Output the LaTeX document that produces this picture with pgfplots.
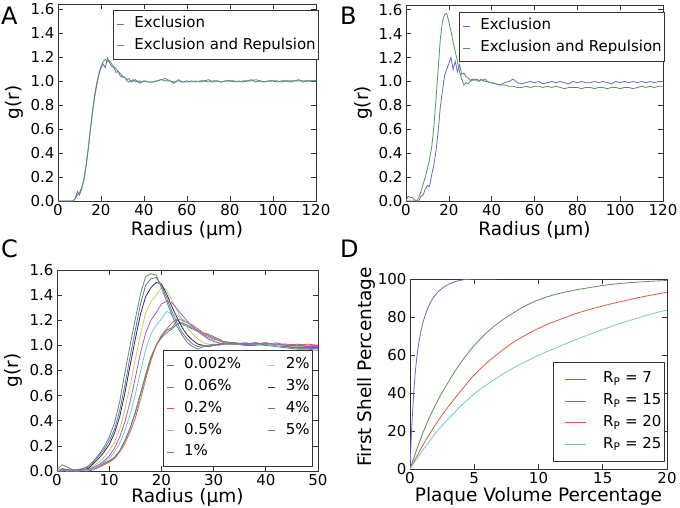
\documentclass[border=0pt]{standalone}
\usepackage{fontspec}
\setmainfont{DejaVu Sans}
\usepackage{pgfplots}
\usepackage{pgfplotstable}
\pgfplotsset{compat=1.18}

\definecolor{mblue}{RGB}{105,105,205}
\definecolor{mgreen}{RGB}{90,145,90}
\definecolor{mred}{RGB}{225,90,65}
\definecolor{mcyan}{RGB}{115,200,200}
\definecolor{mmag}{RGB}{175,85,200}
\definecolor{myel}{RGB}{205,205,95}
\definecolor{mblack}{RGB}{45,45,65}

\pgfplotstableread[row sep=\\]{
r c0002 c006 c02 c05 c1 c2 c3 c4 c5\\
0 0.00 0.00 0.00 0.00 0.00 0.00 0.00 0.00 0.01\\
1 0.00 0.00 0.00 0.01 0.00 0.01 0.01 0.02 0.05\\
2 0.01 0.01 0.00 0.00 0.01 0.00 0.01 0.01 0.03\\
3 0.00 0.00 0.00 0.01 0.00 0.00 0.00 0.01 0.01\\
4 0.00 0.00 0.00 0.00 0.00 0.01 0.01 0.01 0.01\\
5 0.00 0.01 0.01 0.01 0.01 0.01 0.01 0.02 0.02\\
6 0.00 0.01 0.01 0.01 0.01 0.02 0.02 0.03 0.04\\
7 0.01 0.02 0.02 0.02 0.03 0.04 0.06 0.07 0.08\\
8 0.03 0.04 0.03 0.04 0.05 0.07 0.10 0.12 0.13\\
9 0.06 0.06 0.05 0.07 0.08 0.11 0.15 0.17 0.19\\
10 0.08 0.08 0.07 0.10 0.12 0.16 0.21 0.24 0.27\\
11 0.11 0.10 0.10 0.15 0.18 0.23 0.30 0.33 0.38\\
12 0.16 0.16 0.15 0.22 0.27 0.33 0.43 0.48 0.55\\
13 0.24 0.24 0.22 0.32 0.39 0.49 0.62 0.68 0.78\\
14 0.34 0.34 0.31 0.45 0.55 0.68 0.84 0.91 1.00\\
15 0.46 0.47 0.42 0.61 0.74 0.89 1.05 1.12 1.21\\
16 0.61 0.62 0.57 0.79 0.94 1.09 1.25 1.33 1.41\\
17 0.76 0.77 0.73 0.97 1.10 1.26 1.39 1.48 1.55\\
18 0.90 0.91 0.88 1.09 1.20 1.35 1.46 1.53 1.57\\
19 1.00 1.00 1.00 1.16 1.26 1.40 1.50 1.54 1.56\\
20 1.07 1.06 1.08 1.21 1.33 1.46 1.49 1.48 1.46\\
21 1.12 1.10 1.13 1.27 1.35 1.44 1.41 1.38 1.35\\
22 1.14 1.13 1.18 1.25 1.34 1.36 1.31 1.27 1.24\\
23 1.20 1.17 1.21 1.24 1.29 1.28 1.22 1.18 1.15\\
24 1.17 1.18 1.20 1.21 1.24 1.20 1.14 1.10 1.08\\
25 1.15 1.16 1.18 1.18 1.19 1.14 1.08 1.05 1.02\\
26 1.13 1.14 1.16 1.14 1.15 1.09 1.04 1.01 0.99\\
27 1.11 1.12 1.13 1.11 1.11 1.05 1.01 0.99 0.97\\
28 1.09 1.10 1.10 1.08 1.08 1.02 1.00 1.00 0.99\\
29 1.07 1.09 1.08 1.06 1.05 1.01 0.99 0.99 1.00\\
30 1.05 1.07 1.06 1.04 1.03 1.00 1.00 1.00 1.01\\
31 1.04 1.05 1.04 1.02 1.02 1.01 1.01 1.01 1.00\\
32 1.02 1.03 1.03 1.01 1.01 1.02 1.01 1.01 1.02\\
34 1.01 1.02 1.02 1.01 1.02 1.01 1.01 1.02 1.01\\
36 1.00 1.01 1.01 1.02 1.01 1.01 1.02 1.01 1.01\\
38 1.00 1.01 1.02 1.01 1.02 1.02 1.01 1.01 1.02\\
40 1.01 1.00 1.01 1.01 1.01 1.01 1.02 1.02 1.00\\
42 1.00 1.01 1.01 1.00 1.02 1.00 1.00 1.00 0.99\\
44 1.00 1.00 1.01 1.00 1.00 1.00 0.99 0.99 0.98\\
46 1.01 1.00 1.00 0.99 1.00 0.99 0.98 0.98 0.97\\
48 1.00 1.00 1.01 1.00 0.99 0.99 0.98 0.98 0.97\\
50 1.00 0.99 1.00 0.99 0.99 0.98 0.98 0.97 0.96\\
}\tableC

\pgfplotsset{
  panel/.style={
    scale only axis,
    axis line style={black!80,line width=0.8pt},
    tick align=inside,
    major tick length=5pt,
    every tick/.style={black!80,line width=0.6pt},
    tick label style={font=\fontsize{15}{17}\selectfont},
    label style={font=\fontsize{18.5}{20}\selectfont},
    /pgf/number format/assume math mode=true,
    every axis plot/.append style={line width=0.8pt},
    legend style={font=\fontsize{15}{17}\selectfont, draw=black!80, line width=0.8pt,
      inner xsep=3pt, inner ysep=6.5pt, row sep=7.2pt, column sep=0pt,
      nodes={inner sep=0pt, text height=11pt, text depth=3.5pt}},
    legend cell align=left,
    legend image code/.code={\draw[#1,line width=0.8pt] (0pt,0pt) -- (7pt,0pt); \path (17pt,0pt);},
  },
  gr/.style={ymin=0, ymax=1.64,
    ytick={0,0.2,0.4,0.6,0.8,1.0,1.2,1.4,1.6},
    yticklabel style={/pgf/number format/.cd,fixed,fixed zerofill,precision=1},
    xlabel={Radius (µm)}, ylabel={g(r)}},
}

\begin{document}
\begin{tikzpicture}[x=1pt,y=1pt]
\path[use as bounding box] (0,0) rectangle (680,-508);

% Panel A
\begin{axis}[panel, gr, at={(58pt,-201pt)}, anchor=south west, width=258pt, height=197pt,
  xmin=0, xmax=120, xtick={0,20,40,60,80,100,120},
  xlabel style={at={([yshift=-34pt]axis description cs:0.5,0)},anchor=base},
  ylabel style={at={([xshift=-38pt]axis description cs:0,0.5)},anchor=base,rotate=0},
  legend style={at={(1.012,0.97)},anchor=north east}]
\addplot[mblue] table[row sep=\\]{x y\\ 0 0\\ 6 0\\ 7 0.0\\ 8 0.02\\ 9 0.08\\ 10 0.05\\ 11 0.10\\ 12 0.17\\ 13 0.28\\ 14 0.42\\ 15 0.58\\ 16 0.73\\ 17 0.86\\ 18 0.96\\ 19 1.05\\ 20 1.11\\ 21 1.14\\ 22 1.11\\ 23 1.19\\ 24 1.15\\ 25 1.12\\ 26 1.11\\ 27 1.07\\ 28 1.08\\ 29 1.04\\ 30 1.03\\ 31 1.03\\ 32 1.01\\ 33 1.02\\ 34 0.99\\ 35 1.00\\ 36 1.01\\ 37 0.99\\ 38 1.00\\ 39 0.99\\ 40 1.00\\ 42 0.99\\ 44 0.99\\ 46 1.00\\ 48 1.01\\ 50 1.02\\ 52 1.00\\ 54 0.98\\ 56 1.01\\ 58 0.99\\ 60 1.00\\ 62 0.99\\ 64 1.00\\ 66 0.99\\ 68 1.00\\ 70 1.01\\ 72 0.99\\ 74 1.00\\ 76 0.99\\ 78 1.00\\ 80 1.00\\ 82 0.99\\ 84 1.00\\ 86 0.99\\ 88 1.00\\ 90 1.01\\ 92 0.99\\ 94 1.00\\ 96 0.99\\ 98 1.00\\ 100 1.00\\ 102 0.99\\ 104 1.00\\ 106 1.00\\ 108 0.99\\ 110 1.00\\ 112 1.01\\ 114 0.99\\ 116 1.00\\ 118 1.00\\ 120 1.00\\};
\addlegendentry{Exclusion}
\addplot[mgreen] table[row sep=\\]{x y\\ 0 0\\ 7 0\\ 8 0.02\\ 9 0.05\\ 10 0.07\\ 11 0.11\\ 12 0.18\\ 13 0.29\\ 14 0.43\\ 15 0.59\\ 16 0.74\\ 17 0.88\\ 18 0.98\\ 19 1.06\\ 20 1.12\\ 21 1.16\\ 22 1.18\\ 23 1.16\\ 24 1.17\\ 25 1.14\\ 26 1.12\\ 27 1.10\\ 28 1.08\\ 29 1.06\\ 30 1.04\\ 31 1.03\\ 32 1.00\\ 33 0.99\\ 34 1.00\\ 35 1.01\\ 36 0.99\\ 37 1.00\\ 38 0.98\\ 39 0.99\\ 40 1.00\\ 42 0.99\\ 44 0.99\\ 46 1.00\\ 48 1.01\\ 50 1.00\\ 52 1.00\\ 54 0.99\\ 56 1.00\\ 58 0.99\\ 60 0.99\\ 62 1.00\\ 64 0.99\\ 66 1.00\\ 68 1.00\\ 70 0.99\\ 72 1.00\\ 74 1.00\\ 76 0.99\\ 78 1.00\\ 80 1.00\\ 82 1.00\\ 84 0.99\\ 86 1.00\\ 88 1.00\\ 90 1.00\\ 92 1.01\\ 94 1.00\\ 96 0.99\\ 98 1.00\\ 100 1.00\\ 102 1.00\\ 104 0.99\\ 106 1.00\\ 108 1.00\\ 110 1.00\\ 112 1.00\\ 114 1.00\\ 116 1.00\\ 118 1.00\\ 120 1.00\\};
\addlegendentry{Exclusion and Repulsion}
\end{axis}

% Panel B
\begin{axis}[panel, gr, at={(406pt,-201pt)}, anchor=south west, width=257pt, height=196pt,
  xmin=0, xmax=120, xtick={0,20,40,60,80,100,120},
  xlabel style={at={([yshift=-34pt]axis description cs:0.5,0)},anchor=base},
  ylabel style={at={([xshift=-38pt]axis description cs:0,0.5)},anchor=base,rotate=0},
  legend style={at={(1.008,0.964)},anchor=north east}]
\addplot[mblue] table[row sep=\\]{x y\\ 0 0\\ 6 0.0\\ 7 0.04\\ 8 0.05\\ 9 0.10\\ 10 0.13\\ 11 0.12\\ 12 0.22\\ 13 0.30\\ 14 0.42\\ 15 0.58\\ 16 0.78\\ 17 0.92\\ 18 1.05\\ 19 1.10\\ 20 1.15\\ 21 1.20\\ 22 1.10\\ 23 1.17\\ 24 1.08\\ 25 1.14\\ 26 1.06\\ 27 1.07\\ 28 1.04\\ 29 1.03\\ 30 1.01\\ 31 1.02\\ 32 1.01\\ 33 1.02\\ 34 1.01\\ 35 1.01\\ 36 1.01\\ 37 1.00\\ 38 1.00\\ 39 0.99\\ 40 0.99\\ 42 0.98\\ 44 0.97\\ 46 0.99\\ 48 1.00\\ 50 1.02\\ 52 0.99\\ 54 0.98\\ 56 0.99\\ 58 1.00\\ 60 0.99\\ 62 1.00\\ 64 0.98\\ 66 0.99\\ 68 1.00\\ 70 0.99\\ 72 1.00\\ 74 0.99\\ 76 0.98\\ 78 1.00\\ 80 0.99\\ 82 1.00\\ 84 0.99\\ 86 0.99\\ 88 1.00\\ 90 0.99\\ 92 1.00\\ 94 0.99\\ 96 0.98\\ 98 1.00\\ 100 0.99\\ 102 1.00\\ 104 0.99\\ 106 1.00\\ 108 0.99\\ 110 1.00\\ 112 0.99\\ 114 1.00\\ 116 0.99\\ 118 1.00\\ 120 1.00\\};
\addlegendentry{Exclusion}
\addplot[mgreen] table[row sep=\\]{x y\\ 0 0.0\\ 1 0.04\\ 2 0.03\\ 3 0.03\\ 4 0.01\\ 5 0.0\\ 6 0.03\\ 7 0.08\\ 8 0.14\\ 9 0.20\\ 10 0.27\\ 11 0.35\\ 12 0.45\\ 13 0.62\\ 14 0.85\\ 15 1.10\\ 16 1.35\\ 17 1.50\\ 18 1.56\\ 19 1.57\\ 20 1.50\\ 21 1.42\\ 22 1.33\\ 23 1.25\\ 24 1.17\\ 25 1.08\\ 26 1.02\\ 27 0.97\\ 28 0.99\\ 29 0.98\\ 30 1.00\\ 31 1.01\\ 32 1.02\\ 33 1.01\\ 34 1.00\\ 35 1.02\\ 36 1.01\\ 37 1.02\\ 38 1.00\\ 39 0.99\\ 40 0.99\\ 42 0.98\\ 44 0.97\\ 46 0.97\\ 48 0.96\\ 50 0.96\\ 52 0.95\\ 54 0.95\\ 56 0.96\\ 58 0.95\\ 60 0.96\\ 62 0.96\\ 64 0.95\\ 66 0.96\\ 68 0.95\\ 70 0.96\\ 72 0.95\\ 74 0.94\\ 76 0.95\\ 78 0.95\\ 80 0.95\\ 82 0.94\\ 84 0.95\\ 86 0.95\\ 88 0.94\\ 90 0.95\\ 92 0.95\\ 94 0.94\\ 96 0.95\\ 98 0.95\\ 100 0.94\\ 102 0.95\\ 104 0.95\\ 106 0.94\\ 108 0.95\\ 110 0.96\\ 112 0.95\\ 114 0.96\\ 116 0.95\\ 118 0.96\\ 120 0.96\\};
\addlegendentry{Exclusion and Repulsion}
\end{axis}

% Panel C
\begin{axis}[panel, gr, ymax=1.6, at={(57pt,-471pt)}, anchor=south west, width=261pt, height=201pt,
  xmin=0, xmax=50, xtick={0,10,20,30,40,50},
  xlabel style={at={([yshift=-31pt]axis description cs:0.5,0)},anchor=base},
  ylabel style={at={([xshift=-38pt]axis description cs:0,0.5)},anchor=base,rotate=0},
  legend columns=2,
  legend style={at={(0.981,0.02)},anchor=south east, inner ysep=7.3pt}]
\addplot[mblue] table[x=r,y=c0002]{\tableC}; \addlegendentry{\makebox[84pt][l]{0.002\%}}
\addplot[myel] table[x=r,y=c2]{\tableC}; \addlegendentry{2\%}
\addplot[mgreen] table[x=r,y=c006]{\tableC}; \addlegendentry{0.06\%}
\addplot[mblack] table[x=r,y=c3]{\tableC}; \addlegendentry{3\%}
\addplot[mred] table[x=r,y=c02]{\tableC}; \addlegendentry{0.2\%}
\addplot[mblue] table[x=r,y=c4]{\tableC}; \addlegendentry{4\%}
\addplot[mcyan] table[x=r,y=c05]{\tableC}; \addlegendentry{0.5\%}
\addplot[mgreen] table[x=r,y=c5]{\tableC}; \addlegendentry{5\%}
\addplot[mmag] table[x=r,y=c1]{\tableC}; \addlegendentry{1\%}
\end{axis}

% Panel D
\begin{axis}[panel, at={(410pt,-469pt)}, anchor=south west, width=257pt, height=190pt,
  xmin=0, xmax=20, xtick={0,5,10,15,20}, ymin=0, ymax=100, ytick={0,20,40,60,80,100},
  xlabel={Plaque Volume Percentage}, ylabel={First Shell Percentage},
  xlabel style={at={([yshift=-32pt]axis description cs:0.5,0)},anchor=base},
  ylabel style={at={([xshift=-39pt]axis description cs:0,0.537)},anchor=base,rotate=0},
  legend image code/.code={\path (-8pt,0pt); \draw[#1,line width=0.8pt] (0pt,0pt) -- (21pt,0pt); \path (38pt,0pt);},
  legend style={at={(0.992,0.037)},anchor=south east, inner ysep=10pt}]
\addplot[mblue] table[row sep=\\]{x y\\ 0 0\\ 0.05 9\\ 0.1 17\\ 0.15 24\\ 0.2 30\\ 0.3 41\\ 0.4 50\\ 0.5 57\\ 0.6 62.5\\ 0.7 67\\ 0.85 72.5\\ 1.0 77\\ 1.2 81.3\\ 1.4 85\\ 1.6 87.8\\ 1.8 90\\ 2.0 91.9\\ 2.2 93.4\\ 2.5 95.1\\ 2.8 96.5\\ 3.1 97.5\\ 3.5 98.6\\ 3.9 99.3\\ 4.3 99.7\\ 5 100\\ 6.7 100\\};
\addlegendentry{R\textsubscript{P} = 7}
\addplot[mgreen, smooth] table[row sep=\\]{x y\\ 0 0\\ 1 19\\ 2 34\\ 3 46\\ 4 56.5\\ 5 65\\ 6 72\\ 7 77.5\\ 8 82\\ 9 86\\ 10 89\\ 11 91.3\\ 12 93\\ 13 94.4\\ 14 95.5\\ 15 96.6\\ 16 97.4\\ 17 98\\ 18 98.5\\ 19 98.9\\ 20 99.2\\};
\addlegendentry{R\textsubscript{P} = 15}
\addplot[mred, smooth] table[row sep=\\]{x y\\ 0 0\\ 1 12.5\\ 2 23.5\\ 3 33\\ 4 41.5\\ 5 49.5\\ 6 56\\ 7 61.5\\ 8 66.5\\ 9 70.5\\ 10 74\\ 11 77\\ 12 79.5\\ 13 82\\ 14 84\\ 15 85.8\\ 16 87.5\\ 17 89\\ 18 90.5\\ 19 91.8\\ 20 93\\};
\addlegendentry{R\textsubscript{P} = 20}
\addplot[mcyan, smooth] table[row sep=\\]{x y\\ 0 0\\ 1 10\\ 2 19\\ 3 26.5\\ 4 33.5\\ 5 39.5\\ 6 44.5\\ 7 49\\ 8 53\\ 9 56.5\\ 10 59.8\\ 11 62.8\\ 12 65.6\\ 13 68.3\\ 14 70.9\\ 15 73.4\\ 16 75.8\\ 17 78\\ 18 80\\ 19 82\\ 20 83.7\\};
\addlegendentry{R\textsubscript{P} = 25}
\end{axis}

\node[anchor=base west,font=\fontsize{24}{26}\selectfont,inner sep=0pt] at (1,-25) {A};
\node[anchor=base west,font=\fontsize{24}{26}\selectfont,inner sep=0pt] at (340,-25) {B};
\node[anchor=base west,font=\fontsize{24}{26}\selectfont,inner sep=0pt] at (1,-257) {C};
\node[anchor=base west,font=\fontsize{24}{26}\selectfont,inner sep=0pt] at (340,-257) {D};
\end{tikzpicture}
\end{document}
